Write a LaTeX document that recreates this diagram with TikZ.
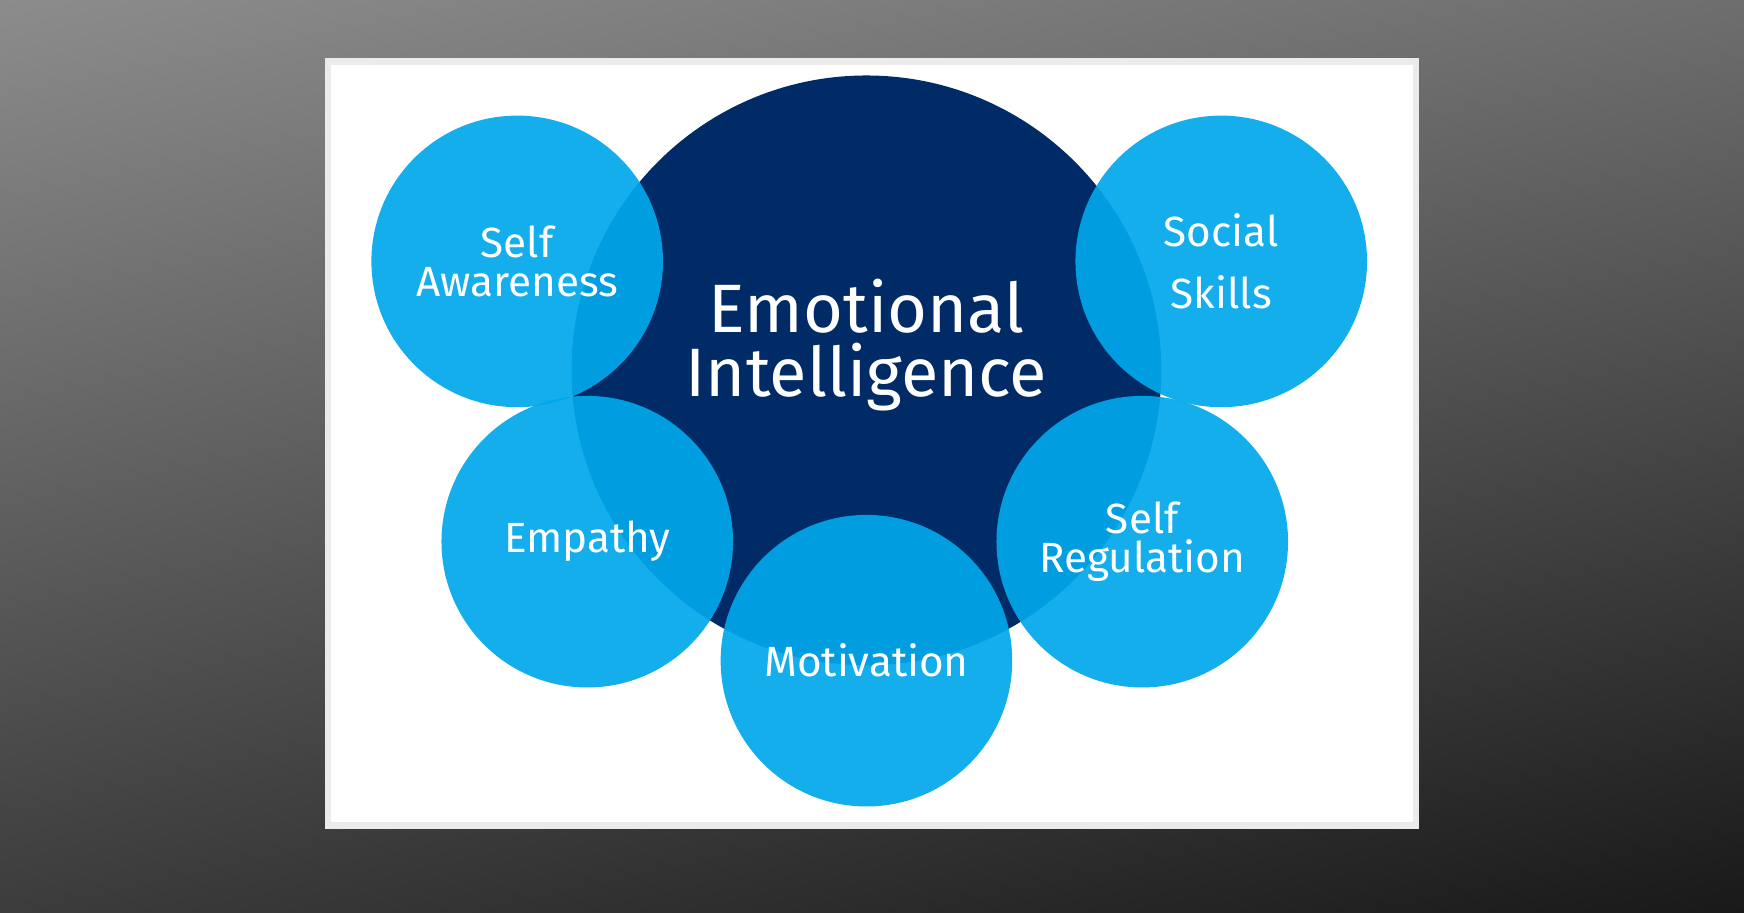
\documentclass[tikz,border=0pt]{standalone}
\usepackage{fontspec}
\setmainfont{Fira Sans}
\usetikzlibrary{shadings}
\definecolor{navy}{RGB}{0,43,102}
\definecolor{lblue}{RGB}{0,168,236}
\tikzset{
  small/.style={circle,minimum size=2.62cm,inner sep=0pt,fill=lblue,fill opacity=0.92,text opacity=1,text=white,font=\fontsize{10.8}{10.2}\selectfont,align=center},
}
\begin{document}
\begin{tikzpicture}[x=0.01cm,y=-0.01cm]
\useasboundingbox (0,0) rectangle (1568,820);
\shade[upper left={rgb,255:red,140;green,140;blue,140},upper right={rgb,255:red,110;green,110;blue,110},lower left={rgb,255:red,60;green,60;blue,60},lower right={rgb,255:red,25;green,25;blue,25}] (0,0) rectangle (1568,820);
\fill[white!92!black] (292,52) rectangle (1276,745);
\fill[white] (298,58) rectangle (1270,739);
\node[circle,fill=navy,minimum size=5.3cm,inner sep=0pt] (ei) at (779,333) {};
\node[small] (sa) at (465,235) {Self\\Awareness};
\node[small,font=\fontsize{10.8}{16}\selectfont] (ss) at (1098,235) {Social\\Skills};
\node[small] (em) at (528,487) {Empathy};
\node[small] (sr) at (1027,487) {Self\\Regulation};
\node[small] (mo) at (779,594) {Motivation};
\node[text=white,align=center,font=\fontsize{17.5}{16.3}\selectfont] (t) at (779,310) {Emotional\\Intelligence};
\end{tikzpicture}
\end{document}
